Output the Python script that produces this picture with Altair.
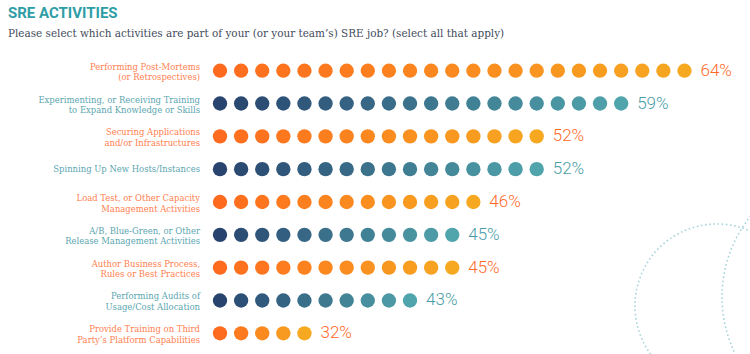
import altair as alt
import pandas as pd

# ---- data ----
categories = [
    "Performing Post-Mortems\n(or Retrospectives)",
    "Experimenting, or Receiving Training\nto Expand Knowledge or Skills",
    "Securing Applications\nand/or Infrastructures",
    "Spinning Up New Hosts/Instances",
    "Load Test, or Other Capacity\nManagement Activities",
    "A/B, Blue-Green, or Other\nRelease Management Activities",
    "Author Business Process,\nRules or Best Practices",
    "Performing Audits of\nUsage/Cost Allocation",
    "Provide Training on Third\nParty\u2019s Platform Capabilities",
]
percents = [64, 59, 52, 52, 46, 45, 45, 43, 32]
dot_counts = [23, 20, 16, 16, 13, 12, 12, 10, 5]
groups = ["o", "b", "o", "b", "o", "b", "o", "b", "o"]

# ---- styling ----
GRAD = {"o": ("#FF6B1E", "#F6A821"), "b": ("#28446E", "#50A4AC")}
LABEL_COL = {"o": "#FF8050", "b": "#5BA6B0"}
PCT_COL = {"o": "#FF6A2A", "b": "#4A9DA8"}
SERIF = "DejaVu Serif Condensed, Liberation Serif"


def mix(c1, c2, t):
    a = [int(c1[k:k + 2], 16) for k in (1, 3, 5)]
    b = [int(c2[k:k + 2], 16) for k in (1, 3, 5)]
    return "#" + "".join(f"{round(x + (y - x) * t):02x}" for x, y in zip(a, b))


# ---- tables built from the lists ----
rows = []
for r, (n, g) in enumerate(zip(dot_counts, groups)):
    for i in range(n):
        t = i / (n - 1) if n > 1 else 0
        rows.append({"row": r, "i": i, "col": mix(GRAD[g][0], GRAD[g][1], t)})
dots_df = pd.DataFrame(rows)

lab_df = pd.DataFrame({
    "row": list(range(len(categories))),
    "label": categories,
    "pct": [f"{p}%" for p in percents],
    "last": [n - 1 for n in dot_counts],
    "lcol": [LABEL_COL[g] for g in groups],
    "pcol": [PCT_COL[g] for g in groups],
})

deco_df = pd.DataFrame({"k": [0]})

xsc = alt.Scale(domain=[0, 22], range=[212, 676.5])
ysc = alt.Scale(domain=[0, 8], range=[20.7, 283.3])

dots = alt.Chart(dots_df).mark_circle(size=205, opacity=1).encode(
    x=alt.X("i:Q", scale=xsc, axis=None),
    y=alt.Y("row:Q", scale=ysc, axis=None),
    color=alt.Color("col:N", scale=None),
)

lab_base = alt.Chart(lab_df).encode(
    x=alt.value(192),
    y=alt.Y("row:Q", scale=ysc, axis=None),
    text="label:N",
    color=alt.Color("lcol:N", scale=None),
)
labels2 = lab_base.transform_filter("indexof(datum.label, '\\n') >= 0").mark_text(
    align="right", baseline="middle", lineBreak="\n", dy=-4,
    font=SERIF, fontSize=9.4, lineHeight=10.6,
)
labels1 = lab_base.transform_filter("indexof(datum.label, '\\n') < 0").mark_text(
    align="right", baseline="middle", lineBreak="\n",
    font=SERIF, fontSize=9.4, lineHeight=10.6,
)

pcts = alt.Chart(lab_df).mark_text(
    align="left", baseline="middle", dx=16,
    font="Roboto", fontSize=17, fontWeight=300,
).encode(
    x=alt.X("last:Q", scale=xsc, axis=None),
    y=alt.Y("row:Q", scale=ysc, axis=None),
    text="pct:N",
    color=alt.Color("pcol:N", scale=None),
)

# decorative dotted circles (size = diameter^2 for Vega circle symbols)
deco1 = alt.Chart(deco_df).mark_point(
    shape="circle", filled=False, stroke="#A9D4DB", strokeWidth=1.6,
    strokeDash=[1.6, 2.6], opacity=1,
).encode(x=alt.value(709), y=alt.value(256), size=alt.value(26896))

deco2 = alt.Chart(deco_df).mark_point(
    shape="circle", filled=False, stroke="#A9D4DB", strokeWidth=1.6,
    strokeDash=[1.6, 2.6], opacity=1,
).encode(x=alt.value(843), y=alt.value(247), size=alt.value(66564))

chart = alt.layer(deco1, deco2, dots, labels2, labels1, pcts).properties(
    width=742,
    height=304,
    autosize=alt.AutoSizeParams(type="none"),
    padding={"top": 50, "left": 8, "right": 0, "bottom": 0},
    title=alt.TitleParams(
        text="SRE ACTIVITIES",
        subtitle="Please select which activities are part of your (or your team\u2019s) SRE job? (select all that apply)",
        anchor="start", frame="group", offset=10,
        font="Roboto", fontSize=15, fontWeight="bold", color="#2E9DA6",
        subtitleFont=SERIF, subtitleFontSize=11.6,
        subtitleColor="#3F4B5C", subtitlePadding=7,
    ),
).configure_view(stroke=None)

chart.save("out.html", embed_options={"renderer": "svg", "actions": False})
